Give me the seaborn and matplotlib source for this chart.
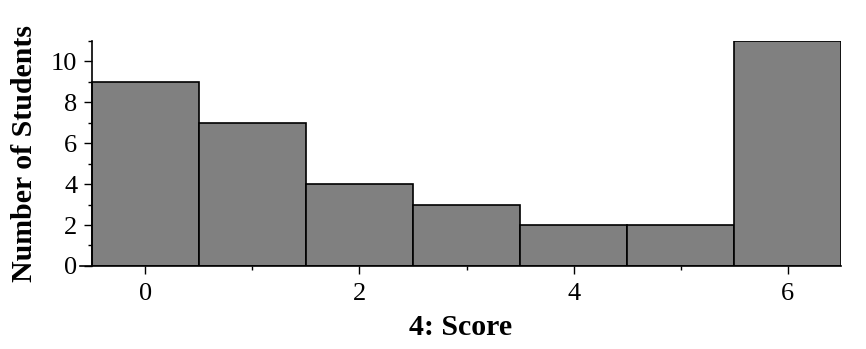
import matplotlib
matplotlib.use("Agg")
import matplotlib.pyplot as plt
import seaborn as sns
import pandas as pd
from matplotlib.ticker import MultipleLocator

scores = [0, 1, 2, 3, 4, 5, 6]
counts = [9, 7, 4, 3, 2, 2, 11]
x_label = "4: Score"
y_label = "Number of Students"

sns.set_style("ticks")
plt.rcParams['font.family'] = ['Liberation Serif', 'DejaVu Serif']
plt.rcParams['text.color'] = 'black'
plt.rcParams['axes.labelcolor'] = 'black'

df = pd.DataFrame({"score": scores, "count": counts})

fig = plt.figure(figsize=(8.66, 3.49), dpi=100)
ax = fig.add_axes([0.0924, 0.238, 0.879, 0.6445])
sns.histplot(data=df, x="score", weights="count", discrete=True, ax=ax,
             color="#808080", edgecolor="black", linewidth=1.2, alpha=1)

ax.set_xlim(-0.61, 6.5)
ax.set_ylim(0, 11)
ax.spines['left'].set_position(('data', -0.5))
sns.despine(ax=ax)
for s in ['left', 'bottom']:
    ax.spines[s].set_linewidth(1.2)
    ax.spines[s].set_color('black')

ax.xaxis.set_major_locator(MultipleLocator(2))
ax.xaxis.set_minor_locator(MultipleLocator(1))
ax.yaxis.set_major_locator(MultipleLocator(2))
ax.yaxis.set_minor_locator(MultipleLocator(1))
ax.tick_params(which='major', length=6, width=1, labelsize=19, color='black', labelcolor='black')
ax.tick_params(which='minor', length=3, width=1, color='black')
ax.tick_params(axis='x', which='major', pad=6)
ax.tick_params(axis='y', which='major', pad=4.5)

ax.set_xlabel(x_label, fontsize=21.5, fontweight='bold', labelpad=7, color='black')
ax.set_ylabel(y_label, fontsize=21.5, fontweight='bold', labelpad=9, color='black')

fig.savefig("out.png", dpi=100)
